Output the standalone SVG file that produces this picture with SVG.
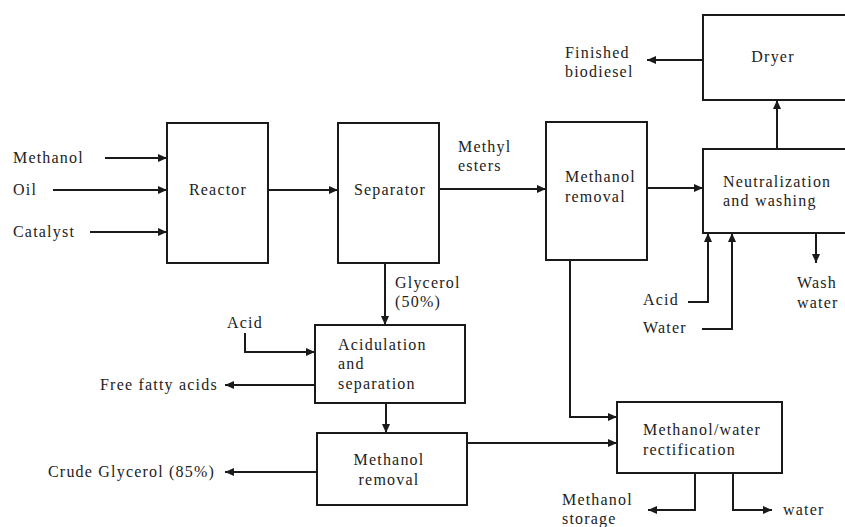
<svg xmlns="http://www.w3.org/2000/svg" width="845" height="527" viewBox="0 0 845 527">
<style>
.box{fill:#fff;stroke:#1a1a1a;stroke-width:2}
.ln{fill:none;stroke:#1a1a1a;stroke-width:2;marker-end:url(#ah)}
text{font-family:"Liberation Serif","Times New Roman",serif;font-size:16px;letter-spacing:1.2px;fill:#222}
.c{text-anchor:middle}
</style>
<defs>
<marker id="ah" markerUnits="userSpaceOnUse" markerWidth="10" markerHeight="10" refX="9" refY="4" orient="auto">
<path d="M0,0 L9,4 L0,8 Z" fill="#1a1a1a"/>
</marker>
</defs>
<rect width="845" height="527" fill="#fff"/>
<g id="connectors">
<path class="ln" d="M105,158 H167"/>
<path class="ln" d="M53,190 H167"/>
<path class="ln" d="M90,232 H167"/>
<path class="ln" d="M268,190 H338"/>
<path class="ln" d="M439,189 H546"/>
<path class="ln" d="M647,188 H703"/>
<path class="ln" d="M777,149 V100"/>
<path class="ln" d="M703,60 H647"/>
<path class="ln" d="M816,233 V263"/>
<path class="ln" d="M688,302 H708 V233"/>
<path class="ln" d="M702,329 H732 V233"/>
<path class="ln" d="M570,260 V417 H617"/>
<path class="ln" d="M467,443 H617"/>
<path class="ln" d="M695,473 V510 H648"/>
<path class="ln" d="M733,473 V510 H772"/>
<path class="ln" d="M385,263 V325"/>
<path class="ln" d="M245,333 V352 H315"/>
<path class="ln" d="M315,385 H225"/>
<path class="ln" d="M386,403 V433"/>
<path class="ln" d="M317,472 H225"/>
</g>
<g id="labels">
<text x="13" y="163">Methanol</text>
<text x="13" y="195">Oil</text>
<text x="13" y="237">Catalyst</text>
<text x="458" y="152">Methyl</text>
<text x="458" y="171">esters</text>
<text x="565" y="58">Finished</text>
<text x="565" y="77">biodiesel</text>
<text x="797" y="288">Wash</text>
<text x="797" y="308">water</text>
<text x="643" y="305">Acid</text>
<text x="643" y="333">Water</text>
<text x="395" y="288">Glycerol</text>
<text x="395" y="307">(50%)</text>
<text x="227" y="328">Acid</text>
<text x="100" y="390">Free fatty acids</text>
<text x="48" y="477">Crude Glycerol (85%)</text>
<text x="562" y="505">Methanol</text>
<text x="562" y="524">storage</text>
<text x="783" y="515">water</text>
</g>
<g id="reactor"><rect class="box" x="167" y="123" width="101" height="140"/><text class="c" x="218" y="195">Reactor</text></g>
<g id="separator"><rect class="box" x="338" y="123" width="101" height="140"/><text class="c" x="390" y="195">Separator</text></g>
<g id="methanol-removal-1"><rect class="box" x="546" y="122" width="101" height="138"/><text x="565" y="182">Methanol</text><text x="565" y="202">removal</text></g>
<g id="dryer"><rect class="box" x="703" y="15" width="150" height="85"/><text class="c" x="773" y="62">Dryer</text></g>
<g id="neutralization"><rect class="box" x="703" y="149" width="150" height="84"/><text x="723" y="187">Neutralization</text><text x="723" y="206">and washing</text></g>
<g id="acidulation"><rect class="box" x="315" y="325" width="150" height="78"/><text x="338" y="350">Acidulation</text><text x="338" y="369">and</text><text x="338" y="389">separation</text></g>
<g id="methanol-removal-2"><rect class="box" x="317" y="433" width="150" height="72"/><text class="c" x="389" y="465">Methanol</text><text class="c" x="389" y="485">removal</text></g>
<g id="rectification"><rect class="box" x="617" y="402" width="165" height="71"/><text x="643" y="435">Methanol/water</text><text x="643" y="455">rectification</text></g>
</svg>
